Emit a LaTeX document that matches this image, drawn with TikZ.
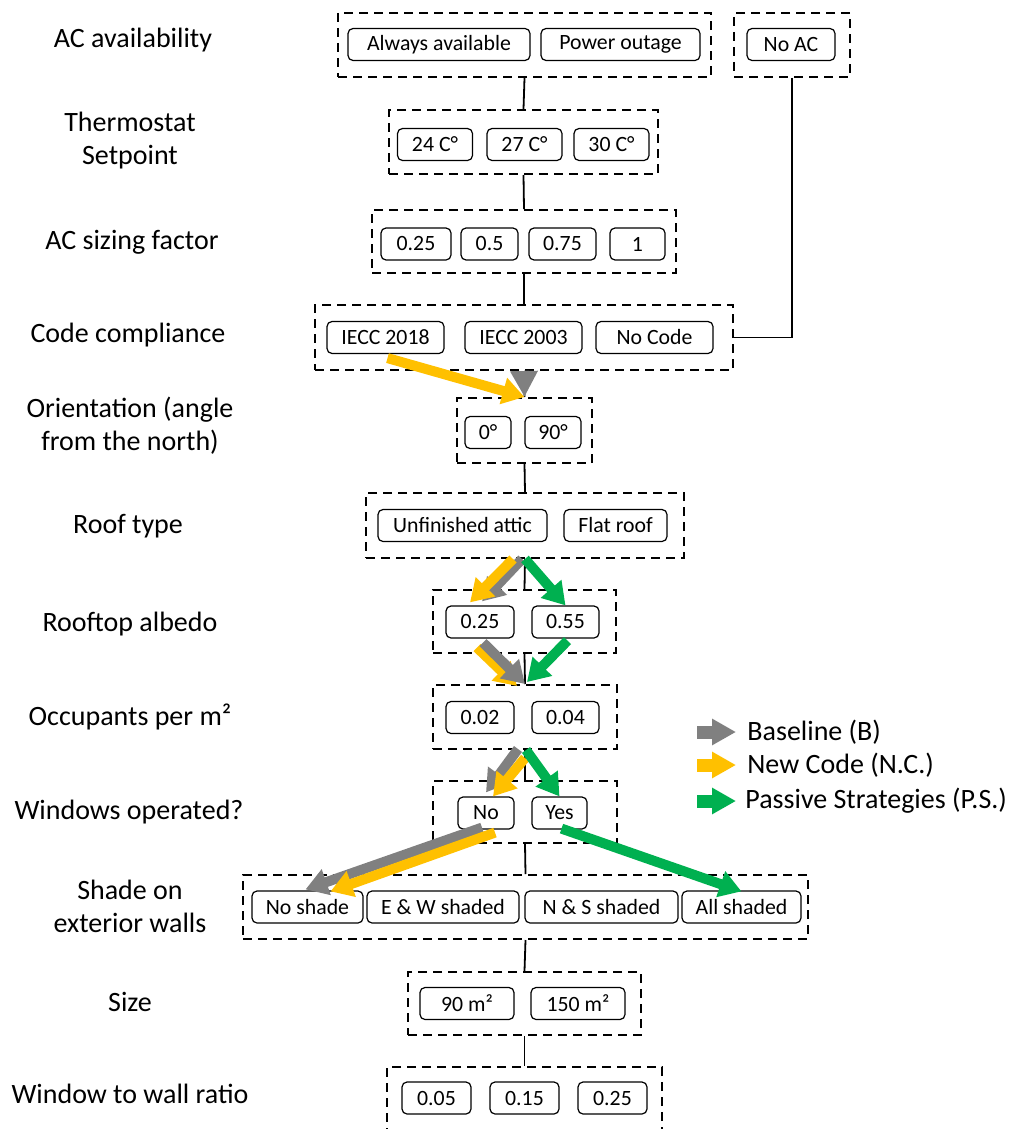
\documentclass[tikz,border=0pt]{standalone}
\usepackage{fontspec}
\setmainfont{Carlito}
\usetikzlibrary{arrows.meta,calc}
\definecolor{flowgray}{RGB}{128,128,128}
\definecolor{flowyellow}{RGB}{255,192,0}
\definecolor{flowgreen}{RGB}{0,176,80}
\tikzset{
	grp/.style 2 args={draw,dash pattern=on 4.5pt off 3pt,line width=1pt,inner sep=0pt,minimum width=#1*0.5pt,minimum height=#2*0.5pt},
	opt/.style={draw,rounded corners=2.5pt,line width=0.6pt,inner sep=0pt,minimum height=16pt,minimum width=#1*0.5pt,font=\fontsize{10.9}{12}\selectfont},
	lbl/.style={align=center,font=\fontsize{14}{16.5}\selectfont},
	link/.style={line width=0.9pt},
	flow/.style={line width=5pt,-{Triangle[length=11pt,width=13pt]}},
}
\begin{document}
\begin{tikzpicture}[x=0.5pt,y=-0.5pt]
		\useasboundingbox (0,0) rectangle (1013,1129);
		\node[lbl] (lAC) at (133,40) {AC availability};
		\node[lbl] (lTh) at (130,141) {Thermostat\\Setpoint};
		\node[lbl] (lSz) at (132,242) {AC sizing factor};
		\node[lbl] (lCode) at (128,335) {Code compliance};
		\node[lbl] (lOr) at (130,426) {Orientation (angle\\from the north)};
		\node[lbl] (lRoof) at (128,526) {Roof type};
		\node[lbl] (lAlb) at (130,624) {Rooftop albedo};
		\node[lbl] (lOcc) at (130,717) {Occupants per m²};
		\node[lbl] (lWin) at (129,812) {Windows operated?};
		\node[lbl] (lShade) at (130,906) {Shade on\\exterior walls};
		\node[lbl] (lSize) at (130,1002) {Size};
		\node[lbl] (lWWR) at (130,1094) {Window to wall ratio};
		\node[grp={373}{64}] (gAC) at (524.5,45) {};
		\node[grp={116}{64}] (gNoAC) at (792,45) {};
		\node[grp={269}{64}] (gTh) at (523.5,142) {};
		\node[grp={304}{63}] (gSz) at (524,241.5) {};
		\node[grp={418}{65}] (gCode) at (524,337.5) {};
		\node[grp={135}{65}] (gOr) at (524.5,430.5) {};
		\node[grp={318}{65}] (gRoof) at (525,525.5) {};
		\node[grp={183}{63}] (gAlb) at (524.5,621.5) {};
		\node[grp={184}{64}] (gOcc) at (525,717) {};
		\node[grp={184}{62}] (gWin) at (525,812) {};
		\node[grp={565}{64}] (gShade) at (525.5,907) {};
		\node[grp={233}{63}] (gSize) at (524.5,1003.5) {};
		\node[grp={275}{64}] (gWWR) at (524.5,1099) {};
		\node[opt=182] (acAlways) at (439,44.5) {Always available};
		\node[opt=159] (acOutage) at (620.5,44.5) {Power outage};
		\node[opt=88] (acNo) at (791,44.5) {No AC};
		\node[opt=75] (th24) at (435,144.5) {24 C°};
		\node[opt=75] (th27) at (524.5,144.5) {27 C°};
		\node[opt=75] (th30) at (611.5,144.5) {30 C°};
		\node[opt=70] (sz1) at (416,244) {0.25};
		\node[opt=57] (sz2) at (489.5,244) {0.5};
		\node[opt=67] (sz3) at (562.5,244) {0.75};
		\node[opt=55] (sz4) at (637.5,244) {1};
		\node[opt=117] (c18) at (385.5,337.5) {IECC 2018};
		\node[opt=117] (c03) at (523.5,337.5) {IECC 2003};
		\node[opt=117] (cNo) at (654.5,337.5) {No Code};
		\node[opt=46] (or0) at (488,432.5) {0°};
		\node[opt=56] (or90) at (553,432.5) {90°};
		\node[opt=169] (rfAttic) at (462.5,525.5) {Unfinished attic};
		\node[opt=103] (rfFlat) at (615.5,525.5) {Flat roof};
		\node[opt=68] (alb1) at (480,622) {0.25};
		\node[opt=67] (alb2) at (565.5,622) {0.55};
		\node[opt=68] (occ1) at (480,717.5) {0.02};
		\node[opt=67] (occ2) at (565.5,717.5) {0.04};
		\node[opt=56] (winNo) at (486,813) {No};
		\node[opt=55] (winYes) at (559.5,813) {Yes};
		\node[opt=111] (shNo) at (307.5,907) {No shade};
		\node[opt=152] (shEW) at (443,907) {E \& W shaded};
		\node[opt=153] (shNS) at (601.5,907) {N \& S shaded};
		\node[opt=119] (shAll) at (741.5,907) {All shaded};
		\node[opt=94] (size1) at (467,1003.5) {90 m²};
		\node[opt=94] (size2) at (578,1003.5) {150 m²};
		\node[opt=69] (wwr1) at (436.5,1098) {0.05};
		\node[opt=69] (wwr2) at (524.5,1098) {0.15};
		\node[opt=69] (wwr3) at (612.5,1098) {0.25};
		\draw[link] (gAC.south) -- (gTh.north);
		\draw[link] (gTh.south) -- (gSz.north);
		\draw[link] (gSz.south) -- (gCode.north);
		\draw[link] (gCode.south) -- (gOr.north);
		\draw[link] (gOr.south) -- (gRoof.north);
		\draw[link] (gRoof.south) -- (gAlb.north);
		\draw[link] (gAlb.south) -- (gOcc.north);
		\draw[link] (gOcc.south) -- (gWin.north);
		\draw[link] (gWin.south) -- (gShade.north);
		\draw[link] (gShade.south) -- (gSize.north);
		\draw[link] (gSize.south) -- (gWWR.north);
		\draw[link] (gNoAC.south) |- (gCode.east);
		\draw[flow,flowgray,-{Triangle[length=13pt,width=13pt]}] (gCode.south) -- (gOr.north);
		\draw[flow,flowyellow] ($(c18.south)+(2,4)$) -- (gOr.north);
		\draw[flow,flowgray] ($(gRoof.south)+(-3,0)$) -- ($(alb1.north)+(2,-4)$);
		\draw[flow,flowyellow] ($(gRoof.south)+(-12,0)$) -- ($(alb1.north)+(-10,-3)$);
		\draw[flow,flowgreen] (gRoof.south) -- (alb2.north);
		\draw[flow,flowyellow] ($(alb1.south)+(-3,9)$) -- ($(gOcc.north)+(-8,2)$);
		\draw[flow,flowgray] ($(alb1.south)+(3,4)$) -- (gOcc.north);
		\draw[flow,flowgreen] ($(alb2.south)+(2,2)$) -- ($(gOcc.north)+(2,-2)$);
		\draw[flow,flowgray] ($(gOcc.south)+(-7,-1)$) -- ($(winNo.north)+(0,-4)$);
		\draw[flow,flowyellow] ($(gOcc.south)+(0,8)$) -- ($(winNo.north)+(7,0)$);
		\draw[flow,flowgreen] ($(gOcc.south)+(1,0)$) -- (winYes.north);
		\draw[flow,flowgray] ($(winNo.south)+(-4,-2)$) -- ($(shNo.north)+(-2,-1)$);
		\draw[flow,flowyellow] ($(winNo.south)+(9,3)$) -- ($(shNo.north)+(23,1)$);
		\draw[flow,flowgreen] ($(winYes.south)+(2,-1)$) -- ($(shAll.north)+(0,1)$);
		\node[lbl,anchor=west,inner sep=0pt] (lgB) at (747,732) {Baseline (B)};
		\node[lbl,anchor=west,inner sep=0pt] (lgNC) at (747,765) {New Code (N.C.)};
		\node[lbl,anchor=west,inner sep=0pt] (lgPS) at (745,801) {Passive Strategies (P.S.)};
		\draw[flow,flowgray,line width=6.5pt,-{Triangle[length=12pt,width=12.5pt]}] ($(lgB.west)+(-50,0)$) -- ($(lgB.west)+(-11,0)$);
		\draw[flow,flowyellow,line width=6.5pt,-{Triangle[length=12pt,width=12.5pt]}] ($(lgNC.west)+(-50,0)$) -- ($(lgNC.west)+(-11,0)$);
		\draw[flow,flowgreen,line width=6.5pt,-{Triangle[length=12pt,width=12.5pt]}] ($(lgPS.west)+(-48,0)$) -- ($(lgPS.west)+(-9,0)$);
	\end{tikzpicture}
\end{document}
